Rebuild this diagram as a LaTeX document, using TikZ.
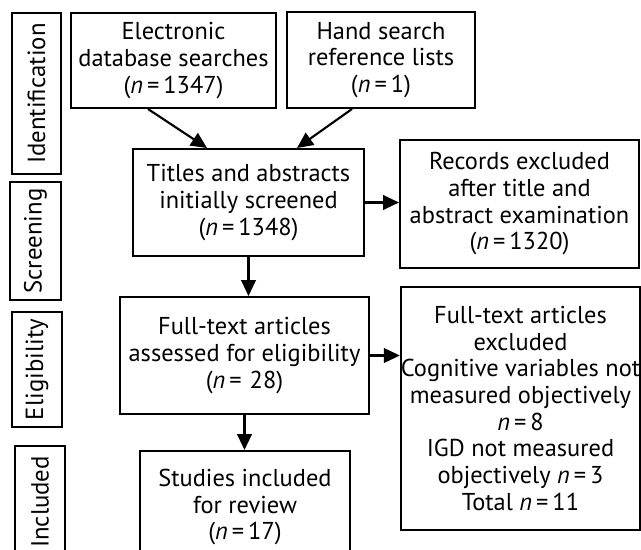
\documentclass[tikz,border=0pt]{standalone}
\usepackage{fontspec}
\setmainfont{PT Sans}
\usetikzlibrary{arrows.meta,calc}
\newcommand{\eqn}{\kern3pt=\kern3pt}
\begin{document}
\begin{tikzpicture}[x=0.75pt,y=-0.75pt,
  box/.style={draw,line width=1.5pt,align=center,inner sep=0pt,font=\fontsize{18.3}{20}\selectfont},
  stage/.style={draw,line width=1.5pt,rotate=90,inner sep=0pt,font=\fontsize{18.6}{20}\selectfont},
  arr/.style={line width=1.6pt,-{Triangle[length=12pt,width=11pt]}}]
\useasboundingbox (0,0) rectangle (641,549);
\clip (0,0) rectangle (641,549);
% stage labels
\node[stage,minimum width=161*0.75pt,minimum height=49*0.75pt] (ident) at (36.5,93.5) {Identification};
\node[stage,minimum width=118*0.75pt,minimum height=51*0.75pt] (screen) at (35.5,241) {Screening};
\node[stage,minimum width=115*0.75pt,minimum height=50*0.75pt] (elig) at (37,369.5) {Eligibility};
\node[stage,minimum width=112*0.75pt,minimum height=50*0.75pt] (incl) at (40,502) {Included};
% boxes
\node[box,minimum width=205*0.75pt,minimum height=95*0.75pt] (elec) at (173.5,60.5) {Electronic\\database searches\\(\textit{n}\eqn 1347)};
\node[box,minimum width=188*0.75pt,minimum height=96*0.75pt] (hand) at (381,60) {Hand search\\reference lists\\(\textit{n}\eqn 1)};
\node[box,minimum width=231*0.75pt,minimum height=107*0.75pt] (titles) at (248.5,202.5) {Titles and abstracts\\initially screened\\(\textit{n}\eqn 1348)};
\node[box,minimum width=239*0.75pt,minimum height=128*0.75pt] (records) at (519.5,204) {Records excluded\\after title and\\abstract examination\\(\textit{n}\eqn 1320)};
\node[box,minimum width=249*0.75pt,minimum height=117*0.75pt] (full) at (244.5,355.5) {Full-text articles\\assessed for eligibility\\(\textit{n}\eqn\kern3pt 28)};
\node[box,minimum width=237*0.75pt,minimum height=243*0.75pt] (excl) at (520.5,408.5) {Full-text articles\\excluded\\Cognitive variables not\\measured objectively\\\textit{n}\eqn 8\\IGD not measured\\objectively \textit{n}\eqn 3\\Total \textit{n}\eqn 11};
\node[box,minimum width=210*0.75pt,minimum height=112*0.75pt] (studies) at (245,507) {Studies included\\for review\\(\textit{n}\eqn 17)};
% connectors
\draw[arr] ($(elec.south)+(-25.5,0)$) -- ($(titles.north)+(-41.5,0)$);
\draw[arr] ($(hand.south)+(-29,0)$) -- ($(titles.north)+(48.5,0)$);
\draw[arr] (titles.east) -- (titles.east -| records.west);
\draw[arr] (titles.south) -- (titles.south |- full.north);
\draw[arr] (full.east) -- (full.east -| excl.west);
\draw[arr] (full.south) -- (full.south |- studies.north);
\end{tikzpicture}
\end{document}
